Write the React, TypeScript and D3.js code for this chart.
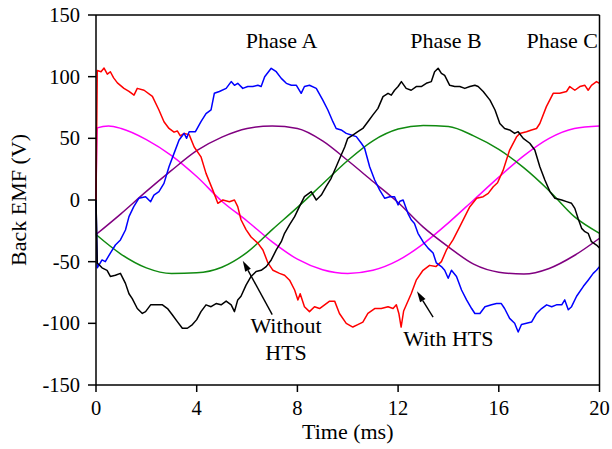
import React from "react";
import * as d3 from "d3";

type Pt = [number, number];

// Time (ms) ticks and EMF ticks
const xTicks = [0, 4, 8, 12, 16, 20];
const yTicks = [-150, -100, -50, 0, 50, 100, 150];

// With HTS (noisy)
const redSeries: Pt[] = [
  [0, 0], [0.05, 105], [0.2, 104], [0.32, 107], [0.45, 102], [0.57, 104], [0.7, 99], [0.85, 95], [1.11, 90.5], [1.31, 88],
  [1.51, 85], [1.64, 90.5], [1.91, 89], [2.24, 84], [2.5, 73], [2.7, 63.5], [2.9, 58], [3.1, 55], [3.23, 56], [3.35, 52],
  [3.5, 54], [3.7, 53], [3.9, 43], [4.17, 35], [4.37, 21.6], [4.64, 8], [4.84, -2.7], [5.04, 0], [5.3, -1.4], [5.5, 0],
  [5.63, -5.4], [5.76, -16], [5.96, -24], [6.16, -30], [6.43, -35], [6.63, -40.5], [6.83, -51], [7.03, -57], [7.29, -59.5],
  [7.49, -61], [7.69, -65], [7.89, -73], [8.02, -81], [8.11, -76], [8.28, -86.5], [8.48, -90.5], [8.68, -86.5], [8.88, -88],
  [9.08, -85], [9.28, -82], [9.48, -82], [9.67, -92], [9.94, -100], [10.2, -103], [10.4, -101], [10.6, -99], [10.8, -92],
  [11.07, -88], [11.33, -88], [11.6, -86.5], [11.8, -88], [11.93, -85], [12.03, -92], [12.12, -103], [12.22, -90],
  [12.52, -76], [12.72, -65], [12.99, -57], [13.25, -53], [13.5, -54], [13.72, -50], [13.92, -40.5], [14.18, -32.4],
  [14.45, -21.6], [14.65, -13.5], [14.85, -5.4], [15.12, 1.35], [15.38, 2.7], [15.58, 5.4], [15.78, 10.8], [15.95, 14],
  [16.17, 24], [16.43, 40.5], [16.7, 51], [16.83, 54], [17.1, 55.4], [17.3, 56.8], [17.5, 58], [17.63, 62], [17.89, 75.7],
  [18.16, 86.5], [18.42, 86.5], [18.69, 88], [18.82, 92], [19.02, 89], [19.22, 92], [19.42, 93], [19.55, 89], [19.68, 93],
  [19.88, 96], [20, 94.6],
];

const blueSeries: Pt[] = [
  [0, 0], [0.05, -55], [0.24, -48.6], [0.37, -50], [0.57, -43], [0.77, -36.5], [0.97, -32.4], [1.17, -24.3], [1.31, -13.5],
  [1.5, -5.4], [1.7, 1.35], [1.97, 2.7], [2.17, -1.35], [2.3, 4], [2.5, 6.8], [2.7, 13.5], [2.9, 27], [3.1, 37.8], [3.3, 48.6],
  [3.5, 54], [3.6, 50], [3.7, 55.4], [3.95, 55.4], [4.17, 63.5], [4.37, 70], [4.57, 73], [4.7, 86.5], [4.9, 88], [5.17, 90.5],
  [5.37, 96], [5.5, 93], [5.63, 94.6], [5.83, 90.5], [6.03, 92], [6.23, 92], [6.43, 93], [6.56, 92], [6.7, 100], [6.96, 106.8],
  [7.16, 104], [7.36, 98.6], [7.56, 94.6], [7.76, 93], [7.96, 93], [8.15, 86.5], [8.28, 92], [8.48, 93], [8.75, 90.5],
  [9.01, 81], [9.21, 73], [9.41, 63.5], [9.54, 58], [9.74, 56.8], [9.94, 54], [10.14, 52.7], [10.34, 51.4], [10.54, 46],
  [10.67, 42], [10.87, 27], [11.07, 16.2], [11.27, 8], [11.47, 1.35], [11.67, 2.7], [11.86, 2.7], [12.0, -4], [12.07, -1],
  [12.2, 0], [12.39, -10.8], [12.52, -16], [12.65, -19], [12.79, -27], [12.99, -33.8], [13.19, -39], [13.39, -43],
  [13.52, -51], [13.72, -54], [13.85, -57], [13.99, -63.5], [14.12, -57], [14.32, -62], [14.52, -73], [14.72, -81],
  [14.92, -88], [15.05, -92], [15.25, -92], [15.45, -86.5], [15.71, -85], [15.91, -84], [16.1, -84], [16.23, -88],
  [16.43, -96], [16.63, -100], [16.77, -107], [16.9, -101], [17.1, -100], [17.3, -99], [17.5, -92], [17.7, -88], [17.9, -85],
  [18.1, -86.5], [18.29, -85], [18.5, -85], [18.62, -81], [18.76, -89], [18.89, -86.5], [19.09, -78], [19.36, -70],
  [19.55, -65], [19.75, -59.5], [19.88, -57], [20, -54],
];

const blackSeries: Pt[] = [
  [0, 0], [0.05, -51], [0.24, -55], [0.44, -57], [0.57, -62], [0.77, -61], [0.97, -59.5], [1.17, -67.6], [1.31, -76],
  [1.44, -80], [1.64, -88], [1.84, -92], [1.97, -90.5], [2.17, -85], [2.37, -85], [2.64, -85], [2.84, -88], [3.03, -93],
  [3.23, -98.6], [3.43, -104], [3.63, -104], [3.83, -101], [4.0, -97], [4.17, -90.5], [4.37, -85], [4.57, -86.5], [4.77, -84],
  [4.97, -85], [5.17, -82], [5.37, -85], [5.5, -90.5], [5.63, -81], [5.76, -78], [5.96, -69], [6.16, -62], [6.36, -58],
  [6.56, -57], [6.76, -54], [6.96, -48.6], [7.16, -40.5], [7.36, -33.8], [7.49, -27], [7.69, -20], [7.89, -13.5], [8.08, -5.4],
  [8.28, 2.7], [8.55, 6.8], [8.75, 0], [8.95, 4], [9.14, 10.8], [9.34, 17.6], [9.54, 27], [9.74, 36.5], [9.88, 43], [10.0, 50],
  [10.2, 52.7], [10.4, 55.4], [10.6, 58], [10.8, 63.5], [11.0, 69], [11.2, 74.3], [11.4, 83.8], [11.6, 86.5], [11.73, 85],
  [11.86, 89], [12.0, 92], [12.13, 96], [12.32, 90.5], [12.52, 89], [12.72, 92], [12.92, 92], [13.12, 94.6], [13.32, 96],
  [13.45, 104], [13.59, 106.8], [13.72, 102.7], [13.85, 101], [14.05, 93], [14.25, 92], [14.45, 92], [14.65, 90.5],
  [14.85, 92], [15.05, 93], [15.18, 92], [15.38, 88], [15.65, 81], [15.85, 73], [16.04, 62], [16.23, 58], [16.43, 56.8],
  [16.63, 54], [16.77, 55.4], [16.97, 50], [17.23, 46], [17.43, 40.5], [17.63, 27], [17.83, 16.2], [18.03, 6.8], [18.23, 1.35],
  [18.5, 0], [18.69, -1.35], [18.89, -2.7], [19.02, -6.8], [19.15, -15], [19.29, -23], [19.42, -25.7], [19.55, -27],
  [19.68, -33.8], [19.88, -36.5], [20, -39],
];

// Without HTS (smooth)
const magentaSeries: Pt[] = [
  [0, 0], [0.05, 58.5], [0.5, 60], [1, 58], [2, 49], [3, 36], [4, 19], [5, -1], [6, -17], [7, -34], [8, -48], [9, -56.5],
  [10, -59.5], [11, -57], [12, -49], [13, -35.5], [14, -18.5], [15, 0], [16, 18.5], [17, 36], [18, 50], [19, 58], [20, 60],
];

const purpleSeries: Pt[] = [
  [0, -28], [1, -11], [2, 7], [3, 24], [4, 40], [5, 51], [6, 58], [7, 60], [8, 58], [9, 48], [10, 32], [11, 15], [12, -2],
  [13, -22], [14, -38], [15, -52], [16, -58.5], [17, -60], [18, -55.5], [19, -45], [20, -31],
];

const greenSeries: Pt[] = [
  [0, -28], [1, -44], [2, -55], [3, -59.5], [4, -59], [5, -54.5], [6, -42.5], [7, -24], [8, -6], [9, 13], [10, 32], [11, 48],
  [12, 57.5], [13, 60.5], [14, 59.5], [15, 52], [16, 41], [17, 26], [18, 7.5], [19, -13.5], [20, -27],
];

const phaseLabels = ["Phase A", "Phase B", "Phase C"];
const phaseLabelT = [7.37, 13.9, 18.52];
const phaseLabelV = 123;

const W = 612;
const H = 449;
const FONT = "'Liberation Serif', 'Times New Roman', serif";

export default function App() {
  const x = d3.scaleLinear().domain([0, 20]).range([96, 599.5]);
  const y = d3.scaleLinear().domain([-150, 150]).range([385, 15]);

  const noisy = d3.line<Pt>().x((d) => x(d[0])).y((d) => y(d[1])).curve(d3.curveLinear);
  const smooth = d3.line<Pt>().x((d) => x(d[0])).y((d) => y(d[1])).curve(d3.curveMonotoneX);

  const lines = [
    { data: magentaSeries, color: "#ff00ff", gen: smooth },
    { data: purpleSeries, color: "#800080", gen: smooth },
    { data: greenSeries, color: "#108a10", gen: smooth },
    { data: redSeries, color: "#ff0000", gen: noisy },
    { data: blueSeries, color: "#0000ff", gen: noisy },
    { data: blackSeries, color: "#000000", gen: noisy },
  ];

  const arrow = (t0: number, v0: number, t1: number, v1: number, key: string) => {
    // from tail (t0,v0) to tip (t1,v1)
    const x0 = x(t0), y0 = y(v0), x1 = x(t1), y1 = y(v1);
    const ang = Math.atan2(y1 - y0, x1 - x0);
    const len = 11, half = 3.2;
    const bx = x1 - len * Math.cos(ang), by = y1 - len * Math.sin(ang);
    const px = -Math.sin(ang) * half, py = Math.cos(ang) * half;
    return (
      <g key={key}>
        <line x1={x0} y1={y0} x2={bx} y2={by} stroke="#000" strokeWidth={1.4} />
        <polygon points={`${x1},${y1} ${bx + px},${by + py} ${bx - px},${by - py}`} fill="#000" />
      </g>
    );
  };

  return (
    <svg width={W} height={H} style={{ position: "absolute", left: 0, top: 0, background: "#fff" }}
      fontFamily={FONT}>
      <rect x={0} y={0} width={W} height={H} fill="#fff" />
      {lines.map((l, i) => (
        <path key={i} d={l.gen(l.data) || ""} fill="none" stroke={l.color} strokeWidth={1.5} strokeLinejoin="round" />
      ))}
      {/* frame */}
      <line x1={x(0)} y1={y(150)} x2={x(0)} y2={y(-150)} stroke="#000" strokeWidth={1.5} />
      <line x1={x(0)} y1={y(-150)} x2={x(20)} y2={y(-150)} stroke="#000" strokeWidth={1.5} />
      <line x1={x(0)} y1={y(150)} x2={x(20)} y2={y(150)} stroke="#000" strokeWidth={1.5} />
      <line x1={x(20)} y1={y(150)} x2={x(20)} y2={y(-150)} stroke="#000" strokeWidth={1.5} />
      {yTicks.map((v) => (
        <g key={"y" + v}>
          <line x1={x(0) - 8} x2={x(0)} y1={y(v)} y2={y(v)} stroke="#000" strokeWidth={1.5} />
          <text x={x(0) - 16} y={y(v)} dy="0.34em" textAnchor="end" fontSize={20.5} fill="#000">{v}</text>
        </g>
      ))}
      {xTicks.map((t) => (
        <g key={"x" + t}>
          <line x1={x(t)} x2={x(t)} y1={y(-150)} y2={y(-150) + 7} stroke="#000" strokeWidth={1.5} />
          <text x={x(t)} y={415} textAnchor="middle" fontSize={20.5} fill="#000">{t}</text>
        </g>
      ))}
      <text x={(x(0) + x(20)) / 2} y={439} textAnchor="middle" fontSize={22} fill="#000">Time (ms)</text>
      <text transform={`translate(26, ${y(0)}) rotate(-90)`} textAnchor="middle" fontSize={22} fill="#000">Back EMF (V)</text>
      {phaseLabels.map((s, i) => (
        <text key={s} x={x(phaseLabelT[i])} y={y(phaseLabelV)} textAnchor="middle" fontSize={22} fill="#000">{s}</text>
      ))}
      <text x={x(7.55)} y={y(-108)} textAnchor="middle" fontSize={22} fill="#000">Without</text>
      <text x={x(7.55)} y={y(-130)} textAnchor="middle" fontSize={22} fill="#000">HTS</text>
      <text x={x(14.0)} y={y(-118)} textAnchor="middle" fontSize={22} fill="#000">With HTS</text>
      {arrow(7.0, -93, 5.83, -49.2, "a1")}
      {arrow(13.39, -95, 12.75, -74, "a2")}
    </svg>
  );
}
